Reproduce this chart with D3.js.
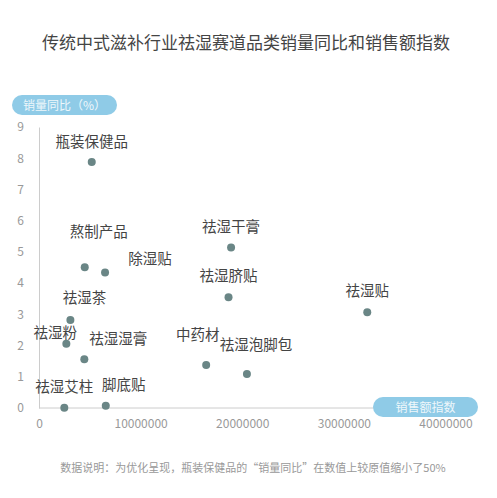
<!DOCTYPE html>
<html><head><meta charset="utf-8">
<script src="https://cdn.jsdelivr.net/npm/d3@7/dist/d3.min.js"></script>
<style>
html,body{margin:0;padding:0;background:#fff;}
svg{display:block;font-family:"Noto Sans CJK SC","Noto Sans",sans-serif;}
</style></head>
<body><svg id="c" width="497" height="498"></svg>
<script>
const categories = ["瓶装保健品","熬制产品","除湿贴","祛湿干膏","祛湿脐贴","祛湿贴","中药材","祛湿泡脚包","祛湿茶","祛湿粉","祛湿湿膏","祛湿艾柱","脚底贴"];
const salesIndex = [5190000,4500000,6500000,18900000,18650000,32300000,16450000,20460000,3090000,2690000,4460000,2490000,6570000];
const volumeYoY = [7.88,4.51,4.34,5.14,3.55,3.07,1.38,1.09,2.82,2.06,1.56,0.01,0.07];
const xTicks = [0,10000000,20000000,30000000,40000000];
const yTicks = [0,1,2,3,4,5,6,7,8,9];
// label placement offsets (layout only)
const labelDx = [0,14,45,0,0,0,-8.5,9,14,-11,34,0,18];
const labelDy = [-20,-35,-13,-21,-21,-21,-30,-29,-22,-11,-20,-21,-21];

const svg = d3.select("#c");
const x = d3.scaleLinear().domain([0,40000000]).range([39,445.5]);
const y = d3.scaleLinear().domain([0,9]).range([408,127]);

svg.append("text").attr("x",246).attr("y",49).attr("text-anchor","middle")
  .attr("font-size",17).attr("fill","#444").text("传统中式滋补行业祛湿赛道品类销量同比和销售额指数");

// axes
const xa = svg.append("g").attr("transform","translate(0,408)")
  .call(d3.axisBottom(x).tickValues(xTicks).tickSize(0).tickPadding(11).tickFormat(d3.format("d")));
xa.select(".domain").remove();
xa.append("line").attr("x1",39).attr("x2",374).attr("stroke","#ccc");
xa.selectAll("text").attr("fill","#999").attr("font-size",12).attr("font-family","'Noto Sans CJK SC','Noto Sans',sans-serif");

const ya = svg.append("g").attr("transform","translate(39,0)")
  .call(d3.axisLeft(y).tickValues(yTicks).tickSize(0).tickPadding(15));
ya.select(".domain").attr("stroke","#ccc");
ya.selectAll("text").attr("fill","#999").attr("font-size",12).attr("font-family","'Noto Sans CJK SC','Noto Sans',sans-serif");

// pills
svg.append("rect").attr("x",12).attr("y",95).attr("width",105).attr("height",20).attr("rx",10).attr("fill","#8fcbe7");
svg.append("text").attr("x",64.5).attr("y",109.5).attr("text-anchor","middle").attr("font-size",12).attr("fill","#eef7fb").text("销量同比（%）");
svg.append("rect").attr("x",373).attr("y",397).attr("width",105).attr("height",20).attr("rx",10).attr("fill","#8fcbe7");
svg.append("text").attr("x",425.5).attr("y",411.5).attr("text-anchor","middle").attr("font-size",12).attr("fill","#eef7fb").text("销售额指数");

const data = categories.map((c,i)=>({c,x:salesIndex[i],y:volumeYoY[i],dx:labelDx[i],dy:labelDy[i]}));
svg.append("g").selectAll("circle").data(data).join("circle")
  .attr("cx",d=>x(d.x)).attr("cy",d=>y(d.y)).attr("r",4).attr("fill","#6a8686");
svg.append("g").selectAll("text").data(data).join("text")
  .attr("x",d=>x(d.x)+d.dx).attr("y",d=>y(d.y)+d.dy+5).attr("text-anchor","middle")
  .attr("font-size",14.5).attr("fill","#444").text(d=>d.c);

svg.append("text").attr("x",253).attr("y",472).attr("text-anchor","middle")
  .attr("font-size",11).attr("fill","#999").text("数据说明：为优化呈现，瓶装保健品的“销量同比”在数值上较原值缩小了50%");
</script></body></html>
